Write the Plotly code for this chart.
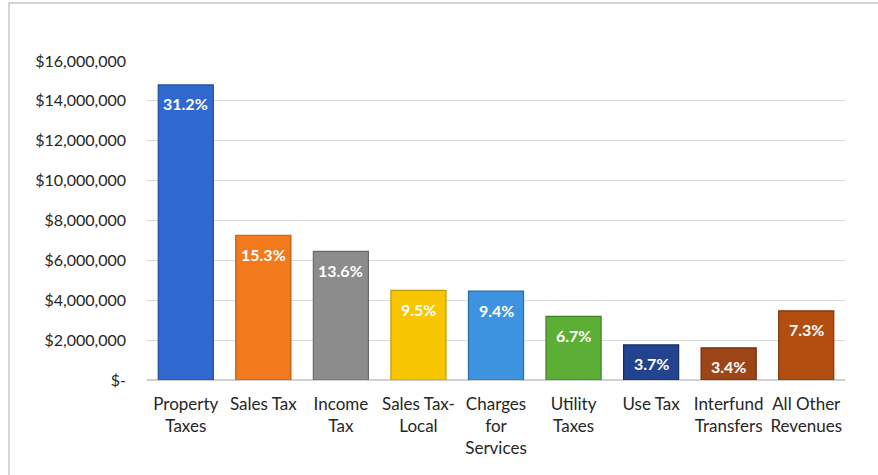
import plotly.graph_objects as go

categories = ["Property<br>Taxes", "Sales Tax", "Income<br>Tax", "Sales Tax-<br>Local",
              "Charges<br>for<br>Services", "Utility<br>Taxes", "Use Tax",
              "Interfund<br>Transfers", "All Other<br>Revenues"]
values = [14800000, 7260000, 6450000, 4500000, 4460000, 3190000, 1760000, 1610000, 3470000]
pct_labels = ["31.2%", "15.3%", "13.6%", "9.5%", "9.4%", "6.7%", "3.7%", "3.4%", "7.3%"]
bar_colors = ["#2F68CF", "#F37A1C", "#8C8C8C", "#F7C600", "#3D93DF",
              "#5CAE34", "#22448F", "#9E4518", "#B14E10"]
edge_colors = ["#1F4C9E", "#B85A10", "#6A6A6A", "#C29A00", "#2A6DAA",
               "#3F8022", "#142C60", "#6A2C0C", "#7F360A"]
tick_vals = [0, 2000000, 4000000, 6000000, 8000000, 10000000, 12000000, 14000000, 16000000]
tick_text = ["$-", "$2,000,000", "$4,000,000", "$6,000,000", "$8,000,000",
             "$10,000,000", "$12,000,000", "$14,000,000", "$16,000,000"]

W, H = 878, 475
L, R, T, B = 147, 33, 61, 95

fig = go.Figure(go.Bar(
    x=categories, y=values,
    marker=dict(color=bar_colors, line=dict(color=edge_colors, width=1.2)),
    hoverinfo="skip",
))

for c, v, t in zip(categories, values, pct_labels):
    fig.add_annotation(x=c, y=v, text=t, showarrow=False, yanchor="middle",
                       yshift=-19,
                       font=dict(family="Lato", size=16, color="white", weight="bold"))

pw, ph = W - L - R, H - T - B
fig.add_shape(type="rect", xref="paper", yref="paper",
              x0=(9 - L) / pw, x1=(W + 5 - L) / pw,
              y0=-(H + 5 - T - ph) / ph, y1=(ph + T - 3) / ph,
              line=dict(color="#C8C8C8", width=1.5), layer="below")

fig.update_layout(
    width=W, height=H,
    margin=dict(l=L, r=R, t=T, b=B, pad=0),
    paper_bgcolor="white", plot_bgcolor="white",
    font=dict(family="Lato", size=16, color="#262626"),
    bargap=0.29, showlegend=False,
    xaxis=dict(showgrid=False, showline=False, ticks="", tickangle=0,
               ticklabelstandoff=12,
               tickfont=dict(size=17, color="#262626")),
    yaxis=dict(range=[0, 16000000], tickvals=tick_vals, ticktext=tick_text,
               showgrid=True, gridcolor="#D9D9D9", gridwidth=1.2,
               zeroline=True, zerolinecolor="#D0D0D0", zerolinewidth=1.5,
               showline=False, ticks="", ticklabelstandoff=20,
               tickfont=dict(size=16, color="#262626")),
)

fig.write_html("out.html")
